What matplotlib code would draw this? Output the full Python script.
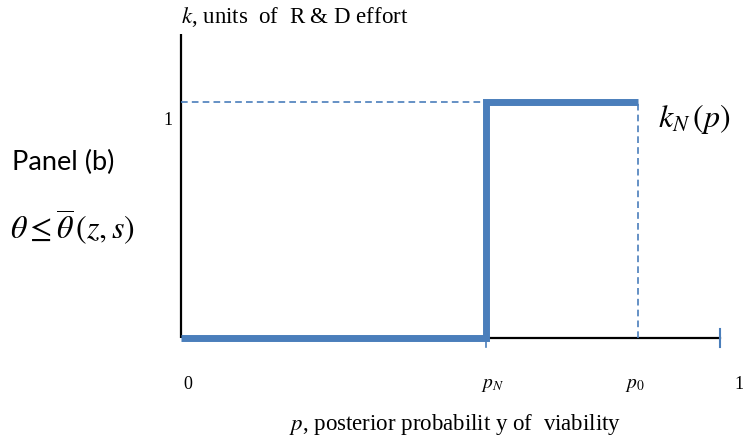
import matplotlib.pyplot as plt

plt.rcParams['mathtext.fontset'] = 'stix'
serif = 'Liberation Serif'

# step function k_N(p): 0 below p_N, 1 from p_N to p_0
p_N = 0.566
p_0 = 0.848
step_x = [0, p_N, p_N, p_0]
step_y = [0, 0, 1, 1]

fig = plt.figure(figsize=(7.48, 4.45), dpi=100)
ax = fig.add_axes([0, 0, 1, 1])

# map pixels: x 181->0, 720->1 ; y 338->0, 102->1
ax.set_xlim(-181 / 539, (748 - 181) / 539)
ax.set_ylim(-(445 - 338) / 236, 338 / 236)
ax.axis('off')

blue = '#4A7EBB'

# axes lines
ax.plot([0, 0], [0, 1.29], color='black', lw=1.6, solid_capstyle='butt')
ax.plot([p_N, 1], [0, 0], color='black', lw=1.6)
ax.plot([1, 1], [-0.04, 0.04], color=blue, lw=1.5)
ax.plot([p_N, p_N], [-0.04, 0], color=blue, lw=1.2)

# dashed guide lines
ax.plot([0, p_N], [1, 1], color=blue, lw=1.2, ls=(0, (4, 2.5)))
ax.plot([p_0, p_0], [0, 1], color=blue, lw=1.2, ls=(0, (4, 2.5)))

# step line
ax.plot(step_x, step_y, color=blue, lw=5, solid_joinstyle='miter',
        solid_capstyle='butt')

# labels
ax.text(0, 1.36, r'$k$, units  of  R & D effort', family=serif, fontsize=16.5,
        ha='left', va='center')
ax.text(-0.025, 0.92, '1', family=serif, fontsize=13, ha='center', va='center')
ax.text(0.885, 0.93, r'$k_N\,(p)$', fontsize=23, ha='left', va='center')

ax.text(0.012, -0.195, '0', family=serif, fontsize=13, ha='center', va='center')
ax.text(p_N + 0.012, -0.195, r'$p_N$', fontsize=14, ha='center', va='center')
ax.text(p_0 - 0.005, -0.195, r'$p_0$', fontsize=14, ha='center', va='center')
ax.text(1.035, -0.195, '1', family=serif, fontsize=13, ha='center', va='center')
ax.text(0.508, -0.365, r'$p$, posterior probabilit y of  viability',
        family=serif, fontsize=16.5, ha='center', va='center')

ax.text(-0.314, 0.745, 'Panel (b)', family='Lato', fontsize=19.5,
        ha='left', va='center')
ax.text(-0.318, 0.47, r'$\theta \leq \overline{\theta}\,(z,s)$', fontsize=23,
        ha='left', va='center')

fig.savefig('out.png', dpi=100)
